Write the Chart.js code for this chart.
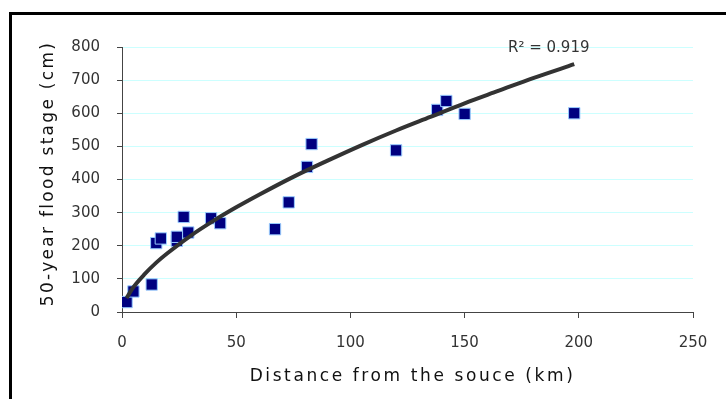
<!DOCTYPE html>
<html>
<head>
<meta charset="utf-8">
<script src="https://cdn.jsdelivr.net/npm/chart.js@4.4.1/dist/chart.umd.min.js"></script>
<style>
  html, body { margin: 0; padding: 0; background: #fff; }
  #wrap { position: relative; width: 726px; height: 399px; overflow: hidden; }
  #frame { position: absolute; left: 9px; top: 12px; width: 800px; height: 500px;
           border-left: 3px solid #000; border-top: 3px solid #000; }
  #chart { position: absolute; left: 0; top: 0; }
</style>
</head>
<body>
<div id="wrap">
  <div id="frame"></div>
  <canvas id="chart" width="726" height="399"></canvas>
</div>
<script>
// measured points (distance from source, km / 50-year flood stage, cm)
const distanceKm = [2, 5, 13, 15, 17, 24, 24, 29, 27, 39, 43, 67, 73, 81, 83, 120, 138, 142, 150, 198];
const floodStage = [30, 62, 83, 208, 222, 215, 227, 240, 287, 283, 268, 250, 331, 438, 507, 488, 610, 637, 598, 600];

// power trendline
const trendDistance = [2, 5, 10, 15, 20, 30, 40, 50, 60, 75, 90, 105, 120, 135, 150, 165, 180, 198];
const trendStage = [42, 75, 115, 149, 178, 230, 275, 316, 354, 408, 457, 504, 548, 589, 630, 668, 706, 748];

const xTicks = [0, 50, 100, 150, 200, 250];
const yTicks = [0, 100, 200, 300, 400, 500, 600, 700, 800];

const r2Text = 'R\u00B2 = 0.919';

const toXY = (xs, ys) => xs.map((x, i) => ({ x: x, y: ys[i] }));

// axis titles in the picture are letter-spaced
const spacedTitles = {
  id: 'spacedTitles',
  afterLayout(chart) {
    const cfg = { x: ['2.6px', 5, 0], y: ['2.3px', 0, -6] };
    for (const id in cfg) {
      const s = chart.scales[id];
      if (!s || s._spacedPatched) continue;
      const orig = s.drawTitle.bind(s);
      const [sp, dx, dy] = cfg[id];
      s.drawTitle = function () {
        const c = this.ctx;
        c.save();
        c.letterSpacing = sp;
        c.translate(dx, dy);
        orig();
        c.restore();
      };
      s._spacedPatched = true;
    }
  }
};

const r2Label = {
  id: 'r2Label',
  afterDatasetsDraw(chart) {
    const { ctx, scales } = chart;
    ctx.save();
    ctx.font = '15px "DejaVu Sans"';
    ctx.fillStyle = '#333';
    ctx.textAlign = 'left';
    ctx.textBaseline = 'middle';
    ctx.fillText(r2Text, scales.x.getPixelForValue(169), scales.y.getPixelForValue(797));
    ctx.restore();
  }
};

new Chart(document.getElementById('chart').getContext('2d'), {
  type: 'scatter',
  data: {
    datasets: [
      {
        type: 'line',
        label: 'Power trend',
        data: toXY(trendDistance, trendStage),
        borderColor: '#333333',
        borderWidth: 4,
        pointRadius: 0,
        tension: 0.4,
        cubicInterpolationMode: 'monotone',
        fill: false,
        order: 0
      },
      {
        label: '50-year flood stage',
        data: toXY(distanceKm, floodStage),
        pointStyle: 'rect',
        pointRadius: 8,
        backgroundColor: '#000080',
        borderColor: '#99ccff',
        borderWidth: 1,
        order: 1
      }
    ]
  },
  options: {
    responsive: false,
    animation: false,
    layout: { padding: { left: 0, top: 47, right: 33, bottom: 0 } },
    plugins: { legend: { display: false }, tooltip: { enabled: false } },
    scales: {
      x: {
        type: 'linear',
        min: 0, max: 250,
        afterBuildTicks: s => { s.ticks = xTicks.map(v => ({ value: v })); },
        afterFit: s => { s.height = 87; },
        grid: { drawOnChartArea: false, drawTicks: true, tickLength: 6, tickColor: '#444' },
        border: { color: '#444', width: 1 },
        ticks: { color: '#333', padding: 16, maxRotation: 0, font: { family: 'DejaVu Sans', size: 15 } },
        title: {
          display: true,
          text: 'Distance from the souce (km)',
          color: '#111',
          font: { family: 'DejaVu Sans', size: 17 },
          padding: { top: 0, bottom: 12 }
        }
      },
      y: {
        type: 'linear',
        min: 0, max: 800,
        afterBuildTicks: s => { s.ticks = yTicks.map(v => ({ value: v })); },
        afterFit: s => { s.width = 122; },
        grid: { color: '#ccffff', lineWidth: 1, drawTicks: true, tickLength: 5, tickColor: '#444' },
        border: { color: '#444', width: 1 },
        ticks: { color: '#333', padding: 17, font: { family: 'DejaVu Sans', size: 15 } },
        title: {
          display: true,
          text: '50-year flood stage (cm)',
          color: '#111',
          font: { family: 'DejaVu Sans', size: 17 },
          padding: { top: 38, bottom: 0 }
        }
      }
    }
  },
  plugins: [spacedTitles, r2Label]
});
</script>
</body>
</html>
